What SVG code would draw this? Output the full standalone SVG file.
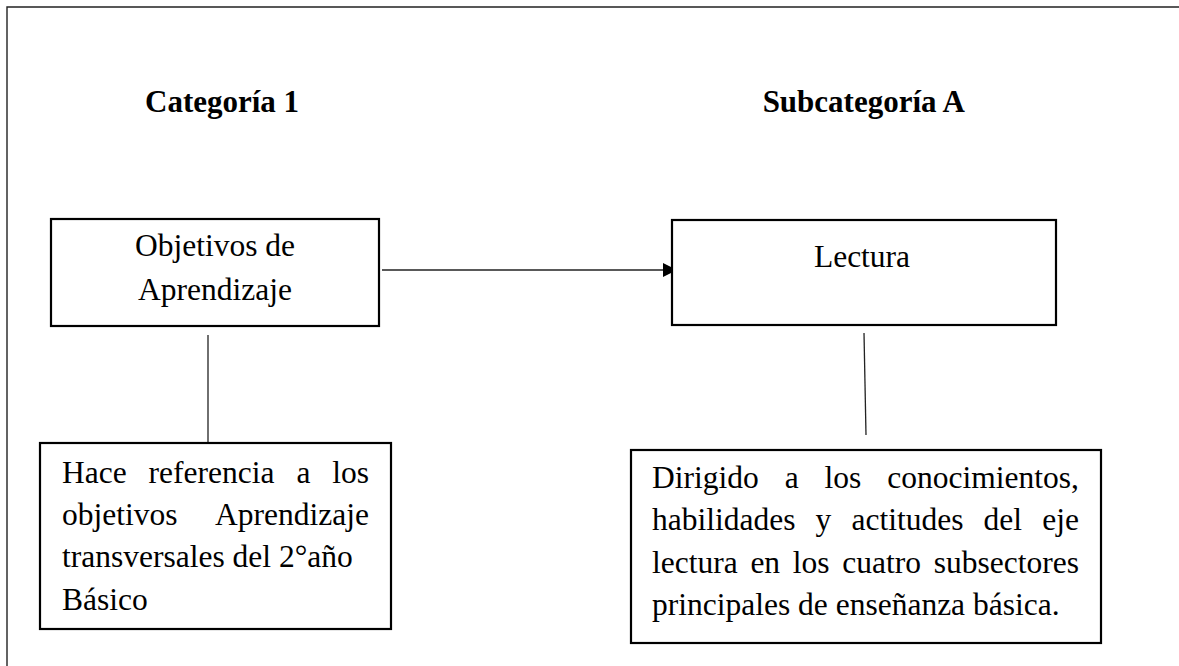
<svg xmlns="http://www.w3.org/2000/svg" width="1179" height="666" viewBox="0 0 1179 666">
<style>
  .box { fill: #ffffff; stroke: #000000; stroke-width: 2.2; }
  .frame { fill: none; stroke: #222222; stroke-width: 1.4; }
  .conn { fill: none; stroke: #222222; stroke-width: 1.3; }
  .t { font-family: "Liberation Serif", "Times New Roman", serif; font-size: 31.5px; fill: #000000; }
  .title { font-family: "Liberation Serif", "Times New Roman", serif; font-size: 31px; font-weight: bold; fill: #000000; }
  .c { text-anchor: middle; }
</style>
<defs>
  <marker id="arrow" viewBox="0 0 14 14" refX="14" refY="7" markerWidth="14" markerHeight="14" markerUnits="userSpaceOnUse" orient="auto">
    <path d="M0,0 L14,7 L0,14 Z" fill="#000000"/>
  </marker>
</defs>
<rect width="1179" height="666" fill="#ffffff"/>
<path class="frame" d="M1179,7 H7 V666"/>

<g id="title-categoria">
  <text class="title" x="145" y="112">Categoría 1</text>
</g>
<g id="title-subcategoria">
  <text class="title" x="965" y="112" text-anchor="end">Subcategoría A</text>
</g>

<g id="connectors">
  <line class="conn" x1="382" y1="270" x2="677" y2="270" marker-end="url(#arrow)"/>
  <line class="conn" x1="208" y1="335" x2="208" y2="443"/>
  <line class="conn" x1="864" y1="333" x2="866" y2="435"/>
</g>

<g id="node-objetivos">
  <rect class="box" x="51" y="219" width="328" height="107"/>
  <text class="t c" x="215" y="256">Objetivos de</text>
  <text class="t c" x="215" y="300">Aprendizaje</text>
</g>

<g id="node-lectura">
  <rect class="box" x="672" y="220" width="384" height="105"/>
  <text class="t c" x="862" y="267">Lectura</text>
</g>

<g id="node-hace-referencia">
  <rect class="box" x="40" y="443" width="351" height="186"/>
  <text class="t" y="483"><tspan x="62">Hace</tspan><tspan x="148.6">referencia</tspan><tspan x="296.4">a</tspan><tspan x="332.3">los</tspan></text>
  <text class="t" y="525"><tspan x="62">objetivos</tspan><tspan x="215.1">Aprendizaje</tspan></text>
  <text class="t" x="62" y="567">transversales del 2°año</text>
  <text class="t" x="62" y="610">Básico</text>
</g>

<g id="node-dirigido">
  <rect class="box" x="631" y="450" width="470" height="193"/>
  <text class="t" y="488"><tspan x="652">Dirigido</tspan><tspan x="784.7">a</tspan><tspan x="824.6">los</tspan><tspan x="887.3">conocimientos,</tspan></text>
  <text class="t" y="530"><tspan x="652">habilidades</tspan><tspan x="815.6">y</tspan><tspan x="851.5">actitudes</tspan><tspan x="983.6">del</tspan><tspan x="1042.3">eje</tspan></text>
  <text class="t" y="573"><tspan x="652">lectura</tspan><tspan x="750.4">en</tspan><tspan x="792.8">los</tspan><tspan x="842.3">cuatro</tspan><tspan x="933.7">subsectores</tspan></text>
  <text class="t" x="652" y="615">principales de enseñanza básica.</text>
</g>
</svg>
